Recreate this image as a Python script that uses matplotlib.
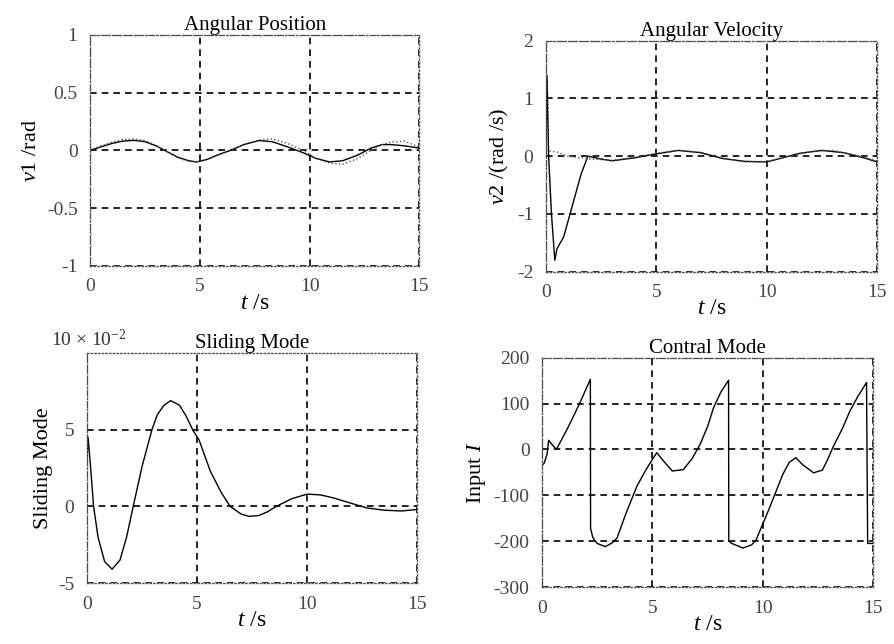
import matplotlib.pyplot as plt
import numpy as np

plt.rcParams['font.family'] = ['Liberation Serif', 'DejaVu Serif']
plt.rcParams['mathtext.fontset'] = 'custom'
plt.rcParams['mathtext.it'] = 'Liberation Serif:italic'
plt.rcParams['mathtext.rm'] = 'Liberation Serif'
plt.rcParams['axes.unicode_minus'] = False

# angular position: actual (solid) and reference (dotted)
t_pos = [0, 0.5, 1, 1.5, 2, 2.5, 3, 3.5, 4, 4.5, 4.85, 5.3, 5.8, 6.4, 7, 7.7, 8.3, 9, 9.7, 10.3, 10.9, 11.5, 12.2, 12.8, 13.3, 13.7, 14.3, 15]
v1 = [0, 0.03, 0.06, 0.08, 0.087, 0.075, 0.04, -0.01, -0.06, -0.09, -0.1, -0.08, -0.04, 0.0, 0.05, 0.085, 0.075, 0.03, -0.02, -0.07, -0.1, -0.09, -0.04, 0.02, 0.05, 0.05, 0.04, 0.02]
v1_ref = [0, 0.04, 0.07, 0.095, 0.1, 0.085, 0.045, -0.01, -0.065, -0.095, -0.1, -0.085, -0.045, 0.0, 0.05, 0.09, 0.1, 0.06, 0.0, -0.07, -0.11, -0.12, -0.07, 0.0, 0.05, 0.07, 0.08, 0.03]

# angular velocity
t_vel = [0, 0.05, 0.12, 0.25, 0.4, 0.5, 0.8, 1.2, 1.6, 1.9, 2.5, 3, 4, 5, 6, 7, 8, 9, 10, 10.5, 11.5, 12.5, 13.5, 14.5, 15]
v2 = [0, 1.4, 0.0, -1.0, -1.8, -1.6, -1.4, -0.85, -0.3, 0.0, -0.05, -0.08, -0.03, 0.04, 0.1, 0.06, -0.04, -0.09, -0.1, -0.05, 0.05, 0.1, 0.06, -0.04, -0.1]
t_vel_ref = [0, 0.5, 1, 2, 3, 4, 5, 6, 7, 8, 9, 10, 11, 12, 13, 14, 15]
v2_ref = [0.1, 0.07, 0.0, -0.05, -0.07, -0.02, 0.05, 0.1, 0.07, -0.03, -0.1, -0.09, 0.0, 0.08, 0.1, 0.02, -0.08]

# sliding mode (x 10^-2)
t_s = [0, 0.05, 0.15, 0.3, 0.5, 0.8, 1.14, 1.5, 1.8, 2.1, 2.5, 2.95, 3.2, 3.5, 3.8, 4.2, 4.5, 4.8, 5.1, 5.6, 6.1, 6.5, 7.0, 7.35, 7.8, 8.2, 8.6, 9.3, 10, 10.6, 11.2, 12.0, 12.7, 13.5, 14.3, 15]
s = [3.0, 4.5, 2.8, 0.0, -2.0, -3.6, -4.1, -3.5, -2.0, 0.0, 2.6, 5.0, 6.0, 6.6, 6.9, 6.6, 5.9, 5.0, 4.3, 2.3, 0.9, 0.0, -0.5, -0.65, -0.6, -0.35, 0.0, 0.5, 0.8, 0.75, 0.55, 0.2, -0.1, -0.25, -0.3, -0.2]

# control input
t_u = [0, 0.1, 0.23, 0.3, 0.38, 0.65, 1.2, 1.7, 2.19, 2.2, 2.3, 2.5, 2.87, 3.2, 3.4, 3.8, 4.3, 4.7, 5.05, 5.2, 5.5, 5.9, 6.4, 6.8, 7.16, 7.5, 7.77, 8.1, 8.45, 8.46, 8.6, 9.1, 9.5, 9.7, 10.3, 10.9, 11.2, 11.5, 11.8, 12.3, 12.7, 12.9, 13.2, 13.6, 13.95, 14.3, 14.7, 14.75, 15]
u = [-35, -30, -10, 20, 15, 0, 50, 100, 153, -172, -192, -205, -212, -203, -193, -140, -80, -45, -18, -7, -25, -47, -44, -20, 11, 50, 91, 125, 151, -200, -205, -215, -208, -197, -128, -55, -28, -18, -33, -51, -45, -26, 7, 45, 84, 115, 146, -205, -205]

fig = plt.figure(figsize=(8.95, 6.44), dpi=100)


def style(ax, xlabel, ylabel, title, yticks, ylim):
    ax.set_xlim(0, 15)
    ax.set_ylim(*ylim)
    ax.set_xticks([0, 5, 10, 15])
    ax.set_yticks(yticks)
    ax.grid(True, linestyle=(0, (4, 3)), color='black', lw=1.2)
    ax.tick_params(length=0, labelsize=14, pad=9, colors='#444444')
    for sp in ax.spines.values():
        sp.set_linestyle(':')
        sp.set_color('#555555')
        sp.set_linewidth(1.0)
    ax.set_xlabel(xlabel, fontsize=17, labelpad=-2)
    ax.set_ylabel(ylabel, fontsize=16, labelpad=4)
    ax.set_title(title, fontsize=15, pad=3)


ax1 = fig.add_axes([0.1006, 0.587, 0.368, 0.359])
ax1.plot(t_pos, v1, color='black', lw=1.0)
ax1.plot(t_pos, v1_ref, color='#555555', lw=1.0, ls=':')
style(ax1, '$t$ /s', '$v$1 /rad', 'Angular Position', [-1, -0.5, 0, 0.5, 1], (-1, 1))
ax1.set_yticklabels(['-1', '-0.5', '0', '0.5', '1'])

ax2 = fig.add_axes([0.610, 0.578, 0.370, 0.359])
ax2.plot(t_vel, v2, color='black', lw=1.0)
ax2.plot(t_vel_ref, v2_ref, color='#555555', lw=1.0, ls=':')
style(ax2, '$t$ /s', '$v$2 /(rad /s)', 'Angular Velocity', [-2, -1, 0, 1, 2], (-2, 2))

ax3 = fig.add_axes([0.0972, 0.0947, 0.369, 0.357])
ax3.plot(t_s, s, color='black', lw=1.0)
style(ax3, '$t$ /s', 'Sliding Mode', 'Sliding Mode', [-5, 0, 5], (-5, 10))
ax3.text(-0.11, 1.015, '10 × 10$^{-2}$', transform=ax3.transAxes, ha='left', va='bottom', fontsize=14, color='#333333')

ax4 = fig.add_axes([0.6056, 0.0885, 0.370, 0.356])
ax4.plot(t_u, u, color='black', lw=1.0)
style(ax4, '$t$ /s', 'Input $I$', 'Contral Mode', [-300, -200, -100, 0, 100, 200], (-300, 200))

fig.savefig('out.png', dpi=100)
